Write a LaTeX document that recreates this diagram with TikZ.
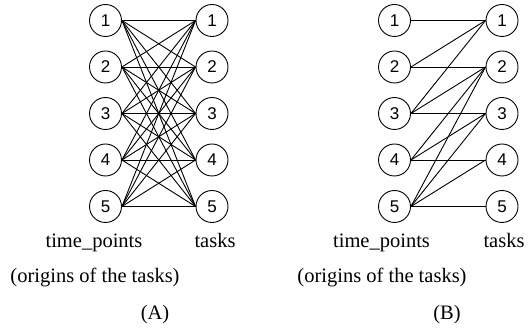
\documentclass[tikz,border=0pt]{standalone}
\usepackage{fontspec}
\setmainfont{Liberation Serif}
\newfontfamily\numfont{Liberation Sans}
\begin{document}
\begin{tikzpicture}[x=1pt,y=-1pt,
  vtx/.style={circle,draw,line width=0.9pt,minimum size=32pt,inner sep=0pt,font=\numfont\fontsize{17}{17}\selectfont},
  lbl/.style={anchor=base,inner sep=0pt,font=\fontsize{20.5}{24}\selectfont},
  edge/.style={line width=0.9pt}]
\useasboundingbox (0,0) rectangle (530,328);
\foreach \k in {1,...,5}{
  \pgfmathsetmacro{\yy}{20.5+46.5*(\k-1)}
  \node[vtx] (al\k) at (105.5,\yy) {\k};
  \node[vtx] (ar\k) at (212,\yy) {\k};
  \node[vtx] (bl\k) at (394.5,\yy) {\k};
  \node[vtx] (br\k) at (502,\yy) {\k};
}
\foreach \i in {1,...,5}{
  \foreach \j in {1,...,5}{
    \draw[edge] (al\i.east) -- (ar\j.west);
  }
}
\foreach \i/\j in {1/1,2/1,2/2,3/1,3/2,3/3,4/2,4/3,4/4,5/2,5/3,5/4,5/5}{
  \draw[edge] (bl\i.east) -- (br\j.west);
}
\node[lbl] (tpa) at (94,248) {time\_points};
\node[lbl] (tka) at (215,248) {tasks};
\node[lbl] (ora) at (95,283) {(origins of the tasks)};
\node[lbl] (capa) at (155,320) {(A)};
\node[lbl] (tpb) at (381.5,248) {time\_points};
\node[lbl] (tkb) at (504,248) {tasks};
\node[lbl] (orb) at (382,283) {(origins of the tasks)};
\node[lbl] (capb) at (447,320) {(B)};
\end{tikzpicture}
\end{document}
